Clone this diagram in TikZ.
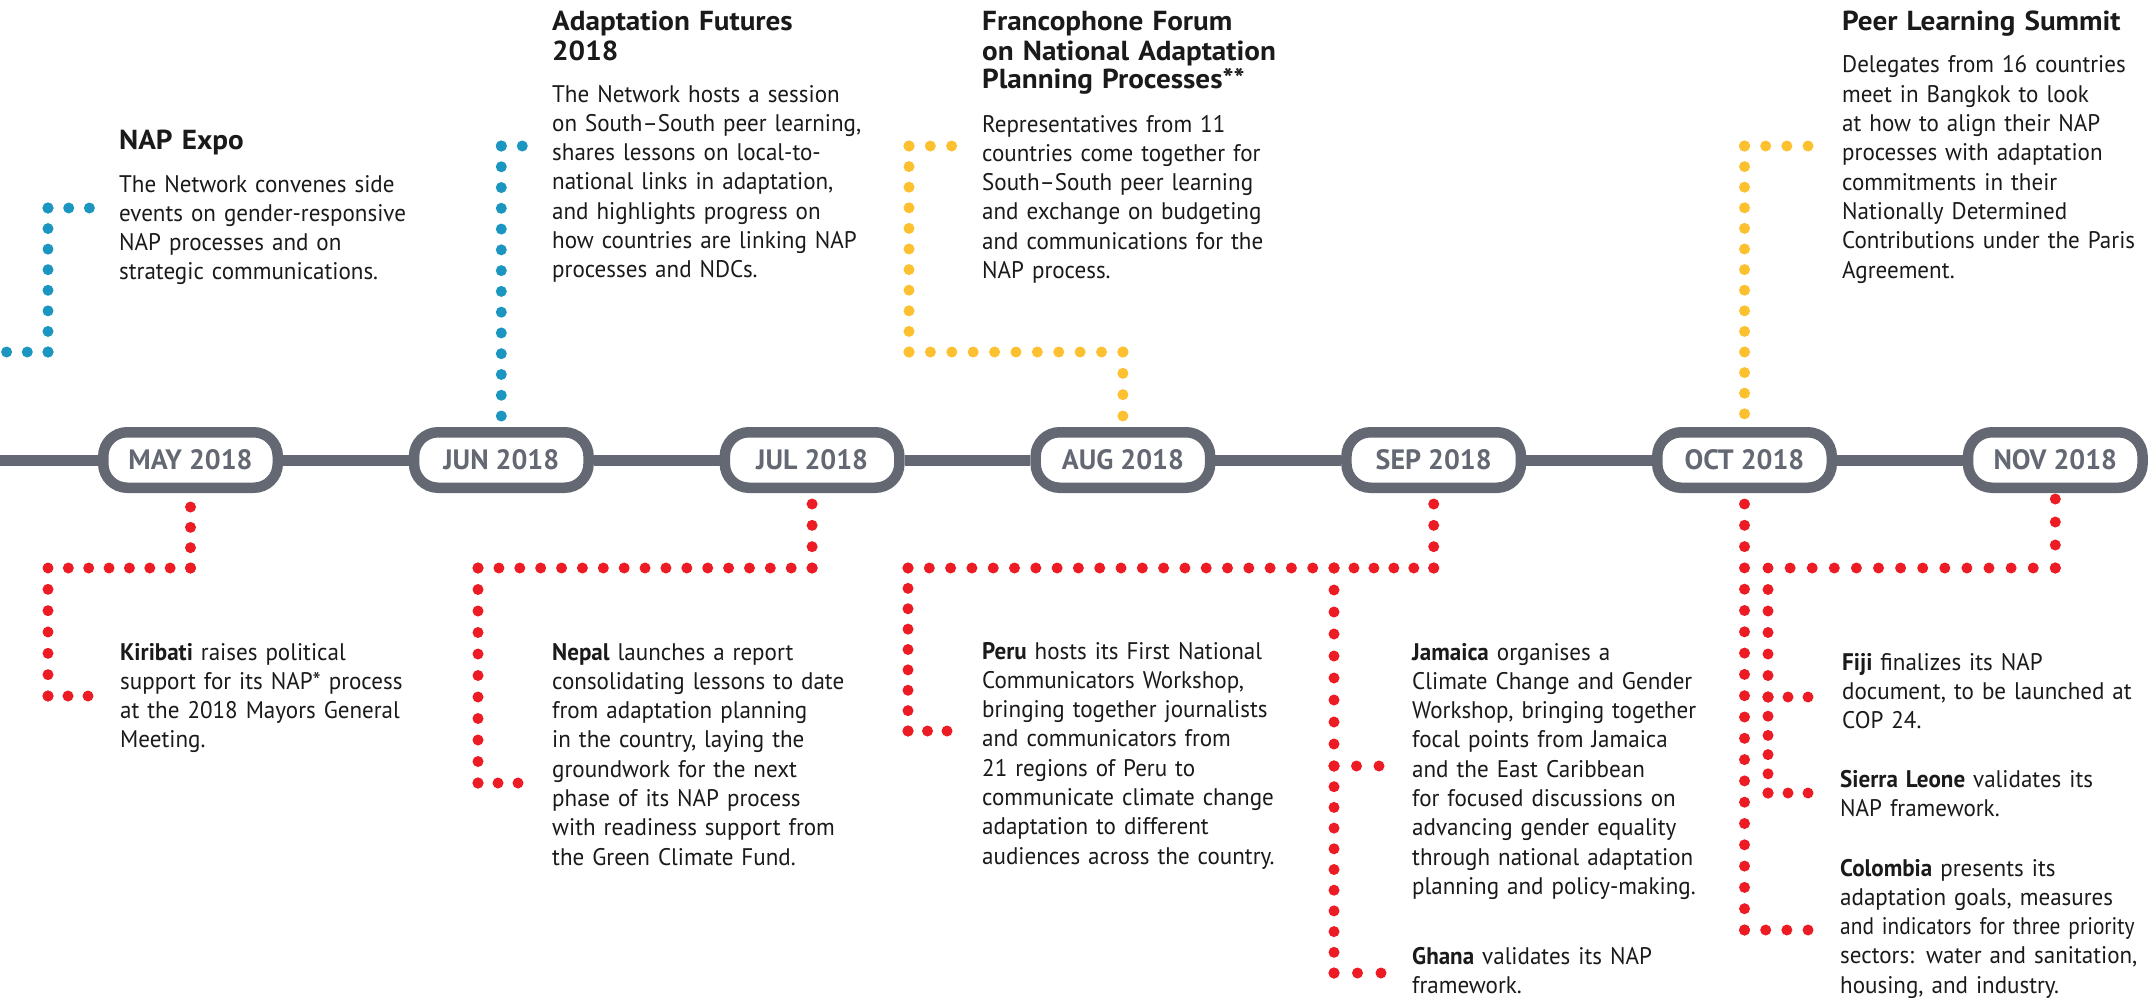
\documentclass[tikz,border=0pt]{standalone}
\usepackage{fontspec}
\setmainfont{PT Sans}
\newfontfamily\bodyfont{PT Sans}[FakeStretch=0.96]
\newfontfamily\narrowbody{PT Sans}[FakeStretch=0.89]
\newfontfamily\ttlfont{PT Sans}[FakeStretch=1.06]
\definecolor{tlgray}{HTML}{636873}
\definecolor{napblue}{HTML}{1B96C0}
\definecolor{napyellow}{HTML}{FDC02F}
\definecolor{napred}{HTML}{ED1C24}
\definecolor{txt}{HTML}{1A1A1A}
\tikzset{
  pill/.style={draw=tlgray, line width=10.5pt, fill=white, rounded corners=24pt,
    minimum width=174.5pt, minimum height=55.5pt, inner sep=0pt, text=tlgray,
    font=\fontsize{28}{30}\selectfont\bfseries},
  tline/.style={draw=tlgray, line width=11pt},
  dotline/.style={line width=11pt, line cap=round, dash pattern=on 0pt off #1},
  bdots/.style={dotline=#1, draw=napblue},
  ydots/.style={dotline=#1, draw=napyellow},
  rdots/.style={dotline=#1, draw=napred},
  ttl/.style={anchor=base west, inner sep=0pt, text width=360pt, align=left, text=txt,
    font=\ttlfont\fontsize{27.5}{29}\selectfont\bfseries},
  body/.style={anchor=base west, inner sep=0pt, text width=360pt, align=left, text=txt,
    font=\bodyfont\fontsize{24}{29.3}\selectfont},
}
\begin{document}
\begin{tikzpicture}[x=1pt,y=-1pt]
\useasboundingbox (0,0) rectangle (2149,998);
\fill[white] (0,0) rectangle (2149,998);

% ---- timeline pills
\node[pill] (may) at (190.5,460) {MAY 2018};
\node[pill] (jun) at (501.3,460) {JUN 2018};
\node[pill] (jul) at (812.1,460) {JUL 2018};
\node[pill] (aug) at (1122.9,460) {AUG 2018};
\node[pill] (sep) at (1433.7,460) {SEP 2018};
\node[pill] (oct) at (1744.5,460) {OCT 2018};
\node[pill] (nov) at (2055.3,460) {NOV 2018};
\coordinate (tl0) at (0,460);
\draw[tline] (tl0) -- (may) (may) -- (jun) (jun) -- (jul) (jul) -- (aug)
  (aug) -- (sep) (sep) -- (oct) (oct) -- (nov);

% ---- blue: NAP Expo
\coordinate (ba1) at (48,208); \coordinate (ba0) at (91,208);
\coordinate (ba2) at (48,352); \coordinate (ba3) at (-20,352);
\draw[bdots=20.7] (ba1) -- (ba0);
\draw[bdots=20.57] (ba1) -- (ba2);
\draw[bdots=20.7] (ba2) -- (ba3);

% ---- blue: Adaptation Futures
\coordinate (bb1) at (501.3,146); \coordinate (bb0) at (524,146);
\coordinate (bb2) at (501.3,418);
\draw[bdots=21] (bb1) -- (bb0);
\draw[bdots=20.77] (bb1) -- (bb2);

% ---- yellow: Francophone Forum
\coordinate (ya1) at (909,146); \coordinate (ya0) at (954,146);
\coordinate (ya2) at (909,352); \coordinate (ya3) at (1122.9,352);
\coordinate (ya4) at (1122.9,418);
\draw[ydots=21.3] (ya1) -- (ya0);
\draw[ydots=20.6] (ya1) -- (ya2);
\draw[ydots=21.39] (ya2) -- (ya3);
\draw[ydots=21.33] (ya3) -- (ya4);

% ---- yellow: Peer Learning Summit
\coordinate (yb1) at (1744.5,146); \coordinate (yb0) at (1810,146);
\coordinate (yb2) at (1744.5,416);
\draw[ydots=21.17] (yb1) -- (yb0);
\draw[ydots=20.6] (yb1) -- (yb2);

% ---- red: Kiribati
\coordinate (ra1) at (190.5,568); \coordinate (ra0) at (190.5,505);
\coordinate (ra2) at (48,568); \coordinate (ra3) at (48,696); \coordinate (ra4) at (90,696);
\draw[rdots=20.33] (ra1) -- (ra0);
\draw[rdots=20.36] (ra1) -- (ra2);
\draw[rdots=21.33] (ra2) -- (ra3);
\draw[rdots=20] (ra3) -- (ra4);

% ---- red: Nepal
\coordinate (rb1) at (812.1,568); \coordinate (rb0) at (812.1,502);
\coordinate (rb2) at (478,568); \coordinate (rb3) at (478,783); \coordinate (rb4) at (520,783);
\draw[rdots=21.33] (rb1) -- (rb0);
\draw[rdots=20.88] (rb1) -- (rb2);
\draw[rdots=21.5] (rb2) -- (rb3);
\draw[rdots=20] (rb3) -- (rb4);

% ---- red: Peru, Jamaica, Ghana
\coordinate (rc1) at (1433.7,568); \coordinate (rc0) at (1433.7,502);
\coordinate (rc5) at (1334,568); \coordinate (rc2) at (908,568);
\coordinate (rc3) at (908,731); \coordinate (rc4) at (949,731);
\coordinate (rc6) at (1334,766); \coordinate (rc7) at (1381,766);
\coordinate (rc8) at (1334,973); \coordinate (rc9) at (1383,973);
\draw[rdots=21.33] (rc1) -- (rc0);
\draw[rdots=19.94] (rc1) -- (rc5);
\draw[rdots=21.3] (rc5) -- (rc2);
\draw[rdots=20.375] (rc2) -- (rc3);
\draw[rdots=19.5] (rc3) -- (rc4);
\draw[rdots=22] (rc5) -- (rc6);
\draw[rdots=22.5] (rc6) -- (rc7);
\draw[rdots=20.7] (rc6) -- (rc8);
\draw[rdots=23.5] (rc8) -- (rc9);

% ---- red: Colombia
\coordinate (rd1) at (1744.5,930); \coordinate (rd0) at (1744.5,502);
\coordinate (rd2) at (1810,930);
\draw[rdots=21.3] (rd1) -- (rd0);
\draw[rdots=21.17] (rd1) -- (rd2);

% ---- red: Fiji, Sierra Leone
\coordinate (re1) at (2055.3,568); \coordinate (re0) at (2055.3,497);
\coordinate (re2) at (1768,568); \coordinate (re3) at (1768,697); \coordinate (re4) at (1768,793);
\coordinate (re5) at (1810,697); \coordinate (re6) at (1810,793);
\draw[rdots=23] (re1) -- (re0);
\draw[rdots=22.1] (re1) -- (re2);
\draw[rdots=21.5] (re2) -- (re3);
\draw[rdots=19.2] (re3) -- (re4);
\draw[rdots=20] (re3) -- (re5);
\draw[rdots=20] (re4) -- (re6);

% ---- top texts
\node[ttl] (t1) at (119,149) {NAP Expo};
\node[body] (d1) at (119,192) {The Network convenes side\\events on gender-responsive\\NAP processes and on\\strategic communications.};
\node[ttl] (t2) at (552,31) {Adaptation Futures\\2018};
\node[body] (d2) at (552,102) {The Network hosts a session\\on South–South peer learning,\\shares lessons on local-to-\\national links in adaptation,\\and highlights progress on\\how countries are linking NAP\\processes and NDCs.};
\node[ttl] (t3) at (982,31) {Francophone Forum\\on National Adaptation\\Planning Processes**};
\node[body] (d3) at (982,132) {Representatives from 11\\countries come together for\\South–South peer learning\\and exchange on budgeting\\and communications for the\\NAP process.};
\node[ttl] (t4) at (1842,31) {Peer Learning Summit};
\node[body] (d4) at (1842,73) {Delegates from 16 countries\\meet in Bangkok to look\\at how to align their NAP\\processes with adaptation\\commitments in their\\Nationally Determined\\Contributions under the Paris\\Agreement.};

% ---- bottom texts
\node[body] (k1) at (120,660) {\textbf{Kiribati} raises political\\support for its NAP* process\\at the 2018 Mayors General\\Meeting.};
\node[body] (n1) at (552,660) {\textbf{Nepal} launches a report\\consolidating lessons to date\\from adaptation planning\\in the country, laying the\\groundwork for the next\\phase of its NAP process\\with readiness support from\\the Green Climate Fund.};
\node[body] (p1) at (982,659) {\textbf{Peru} hosts its First National\\Communicators Workshop,\\bringing together journalists\\and communicators from\\21 regions of Peru to\\communicate climate change\\adaptation to different\\audiences across the country.};
\node[body] (j1) at (1412,660) {\textbf{Jamaica} organises a\\Climate Change and Gender\\Workshop, bringing together\\focal points from Jamaica\\and the East Caribbean\\for focused discussions on\\advancing gender equality\\through national adaptation\\planning and policy-making.};
\node[body] (g1) at (1412,964) {\textbf{Ghana} validates its NAP\\framework.};
\node[body] (f1) at (1842,670) {\textbf{Fiji} finalizes its NAP\\document, to be launched at\\COP 24.};
\node[body] (s1) at (1840,787) {\textbf{Sierra Leone} validates its\\NAP framework.};
\node[body] (c1) at (1840,876) {\textbf{Colombia} presents its\\adaptation goals, measures\\{\narrowbody and indicators for three priority}\\sectors: water and sanitation,\\housing, and industry.};
\end{tikzpicture}
\end{document}
